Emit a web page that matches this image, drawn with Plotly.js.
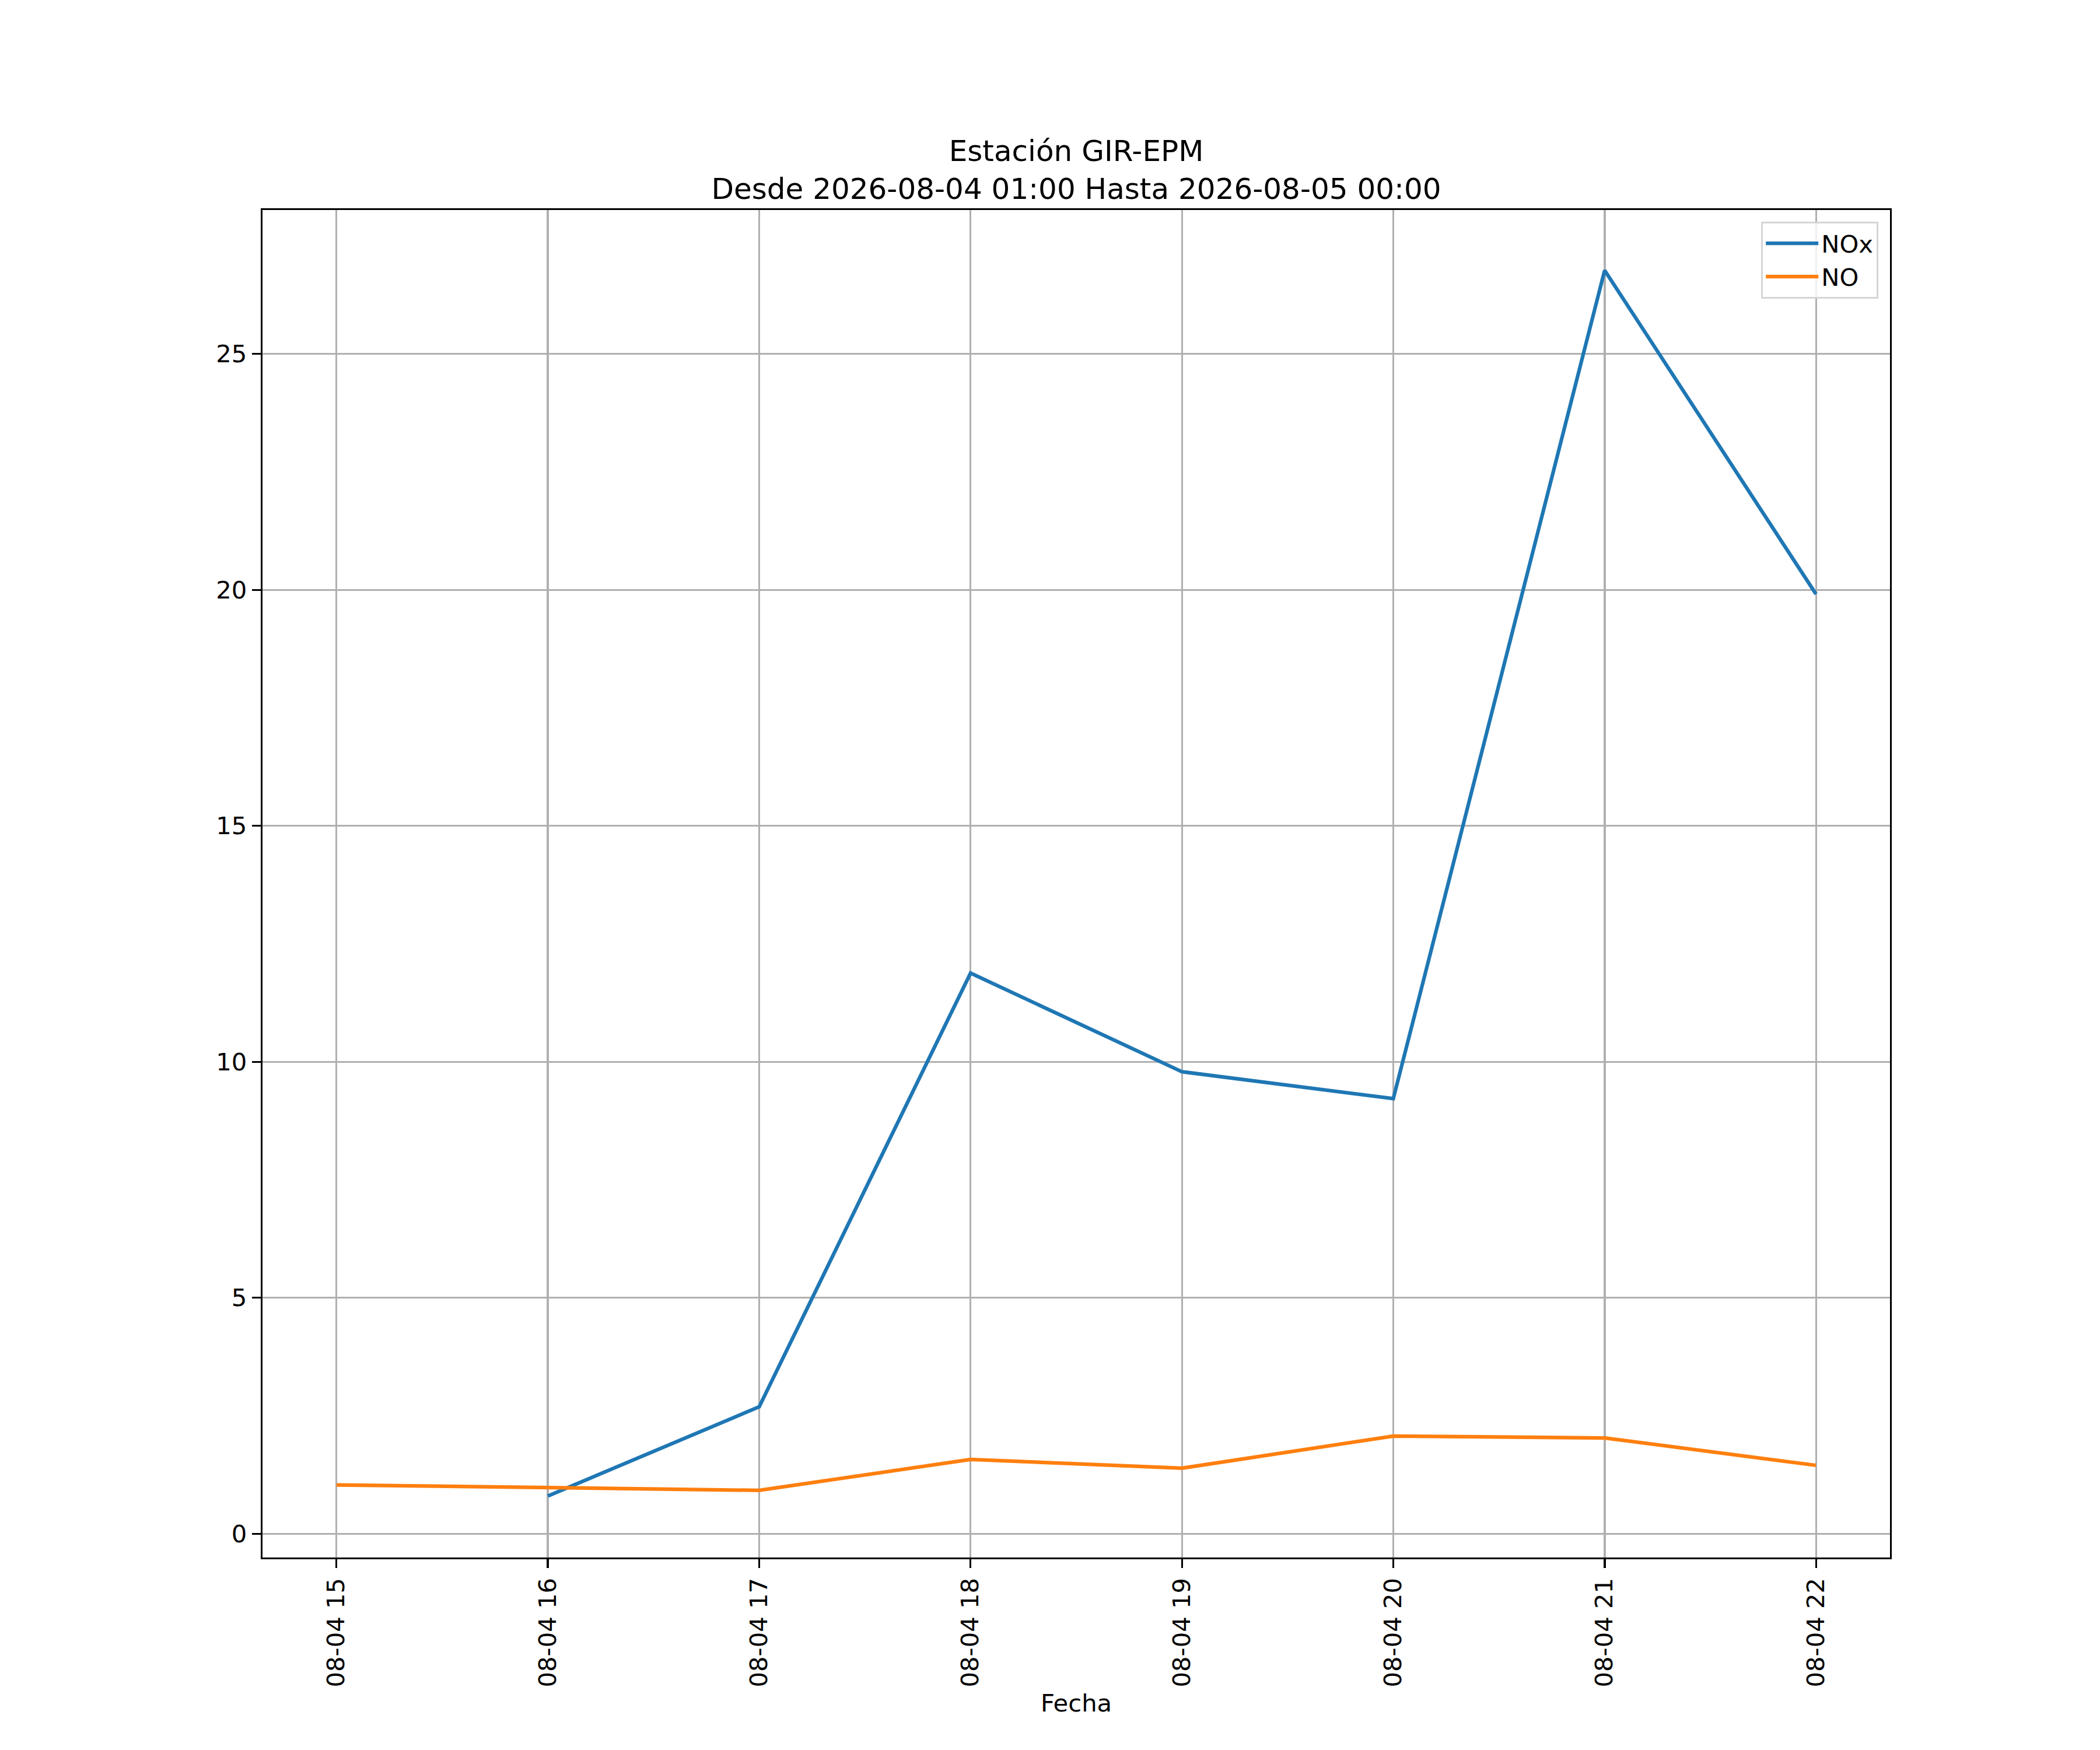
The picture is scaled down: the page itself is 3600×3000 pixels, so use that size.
<!DOCTYPE html>
<html>
<head>
<meta charset="utf-8">
<script src="https://cdn.plot.ly/plotly-3.0.1.min.js"></script>
<style>
  body { margin: 0; background: #ffffff; }
  #chart { width: 3600px; height: 3000px; }
</style>
</head>
<body>
<div id="chart"></div>
<script>
// horas de la estación (x)
var fechas = [
  '2026-08-04 15:00', '2026-08-04 16:00', '2026-08-04 17:00', '2026-08-04 18:00',
  '2026-08-04 19:00', '2026-08-04 20:00', '2026-08-04 21:00', '2026-08-04 22:00'
];

// series
var nox = [null, 0.80, 2.69, 11.88, 9.79, 9.22, 26.77, 19.91];
var no = [1.035, 0.98, 0.92, 1.575, 1.39, 2.07, 2.03, 1.45];

var titulo = 'Estación GIR-EPM<br>Desde 2026-08-04 01:00 Hasta 2026-08-05 00:00';

var font = 'DejaVu Sans, sans-serif';
var fs = 41.7; // 10pt a 300 dpi
var lw = 3.33; // 0.8pt

var traceNox = {
  type: 'scatter',
  mode: 'lines',
  name: 'NOx',
  x: fechas,
  y: nox,
  line: { color: '#1f77b4', width: 6.25 }
};

var traceNo = {
  type: 'scatter',
  mode: 'lines',
  name: 'NO',
  x: fechas,
  y: no,
  line: { color: '#ff7f0e', width: 6.25 }
};

var layout = {
  width: 3600,
  height: 3000,
  paper_bgcolor: '#ffffff',
  plot_bgcolor: '#ffffff',
  font: { family: font, size: fs, color: '#000000' },
  margin: { l: 450, r: 360, t: 360, b: 330, pad: 0 },
  title: {
    text: titulo,
    font: { family: font, size: 50, color: '#000000' },
    xref: 'paper',
    x: 0.5,
    xanchor: 'center',
    yref: 'container',
    y: 1 - 276 / 3000,
    yanchor: 'bottom'
  },
  showlegend: true,
  legend: {
    x: 0.9928,
    xanchor: 'right',
    y: 0.9913,
    yanchor: 'top',
    bgcolor: 'rgba(255,255,255,0.8)',
    bordercolor: '#d5d5d5',
    borderwidth: 3.3,
    itemwidth: 90,
    font: { family: font, size: fs, color: '#000000' },
    tracegroupgap: 0
  },
  xaxis: {
    type: 'date',
    range: ['2026-08-04 14:39', '2026-08-04 22:21'],
    tick0: '2026-08-04 15:00',
    dtick: 3600000,
    tickformat: '%m-%d %H',
    tickangle: -90,
    ticks: 'outside',
    ticklen: 15,
    tickwidth: lw,
    tickcolor: '#000000',
    showline: true,
    linecolor: '#000000',
    linewidth: lw,
    mirror: true,
    showgrid: true,
    gridcolor: '#b0b0b0',
    gridwidth: lw,
    zeroline: false,
    automargin: false,
    title: { text: 'Fecha', font: { family: font, size: fs, color: '#000000' }, standoff: 14 }
  },
  yaxis: {
    range: [-0.503, 28.05],
    tick0: 0,
    dtick: 5,
    ticks: 'outside',
    ticklen: 15,
    tickwidth: lw,
    tickcolor: '#000000',
    showline: true,
    linecolor: '#000000',
    linewidth: lw,
    mirror: true,
    showgrid: true,
    gridcolor: '#b0b0b0',
    gridwidth: lw,
    zeroline: false,
    automargin: false
  }
};

Plotly.newPlot('chart', [traceNox, traceNo], layout, { staticPlot: true });
</script>
</body>
</html>
